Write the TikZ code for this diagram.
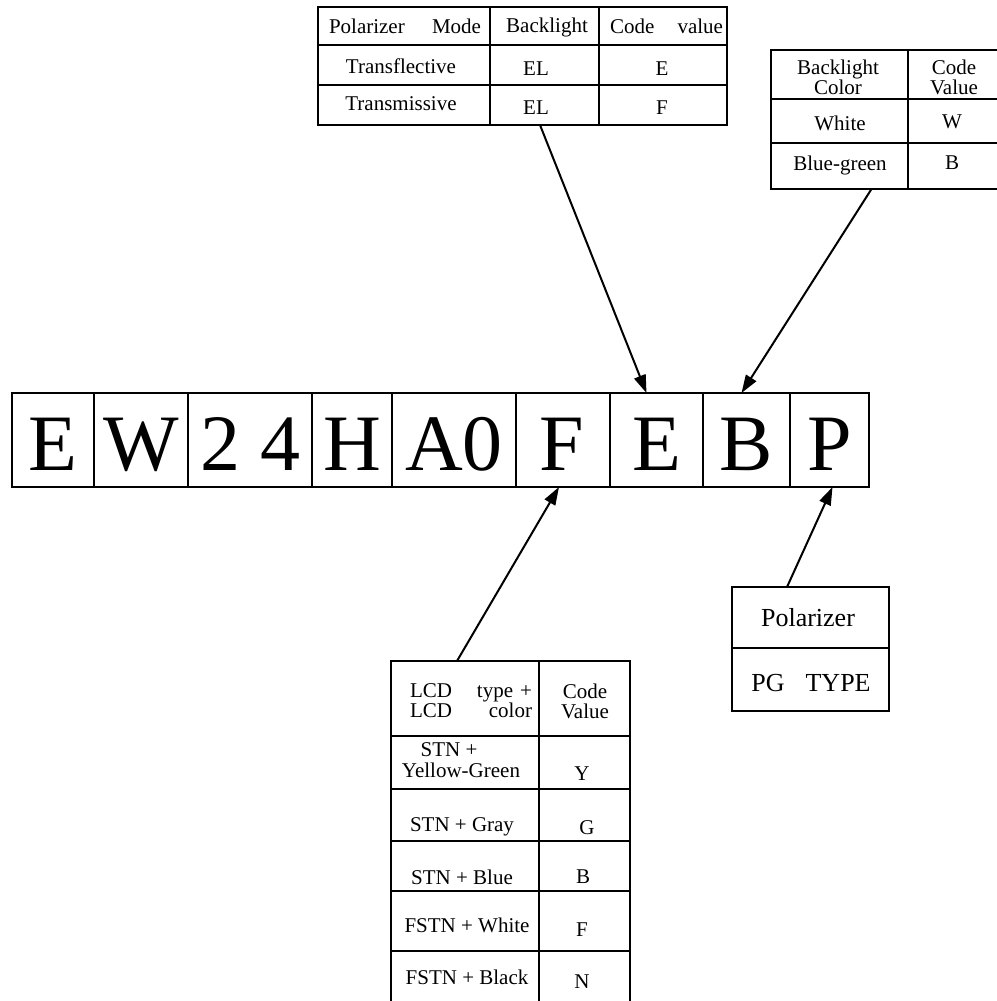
\documentclass[tikz,border=0pt]{standalone}
\usepackage{fontspec}
\setmainfont{Liberation Serif}
\usetikzlibrary{arrows.meta,calc}
\begin{document}
\begin{tikzpicture}[x=1pt,y=-1pt,
  cellbox/.style={draw, line width=1.7pt, minimum height=94pt, inner sep=0pt, outer sep=0pt},
  frame/.style={draw, line width=1.8pt, inner sep=0pt, outer sep=0pt, anchor=north west},
  rule/.style={line width=1.8pt},
  tabtxt/.style={font=\fontsize{21}{20}\selectfont, inner sep=0pt, align=center},
  big/.style={font=\fontsize{80}{80}\selectfont, inner sep=0pt, anchor=base},
  poltxt/.style={font=\fontsize{26}{26}\selectfont, inner sep=0pt},
  arr/.style={line width=2pt, -{Triangle[length=18pt,width=12pt]}},
]
\useasboundingbox (0,0) rectangle (996,1001);

% ---------- main code row ----------
\node[cellbox, minimum width=82pt] (c1) at (53,440) {};
\node[cellbox, minimum width=94pt] (c2) at (141,440) {};
\node[cellbox, minimum width=124pt] (c3) at (250,440) {};
\node[cellbox, minimum width=80pt] (c4) at (352,440) {};
\node[cellbox, minimum width=124pt] (c5) at (454,440) {};
\node[cellbox, minimum width=94pt] (c6) at (563,440) {};
\node[cellbox, minimum width=93pt] (c7) at (656.5,440) {};
\node[cellbox, minimum width=87pt] (c8) at (746.5,440) {};
\node[cellbox, minimum width=79pt] (c9) at (829.5,440) {};
\node[big] (l1) at (53,470) {E};
\node[big] (l2) at (141,470) {W};
\node[big] (l3) at (250,470) {2 4};
\node[big] (l4) at (352,470) {H};
\node[big] (l5) at (454,470) {A0};
\node[big] (l6) at (562,470) {F};
\node[big] (l7) at (656.5,470) {E};
\node[big] (l8) at (746,470) {B};
\node[big] (l9) at (830,470) {P};

% ---------- top table ----------
\node[frame, minimum width=409pt, minimum height=118pt] (tbl1) at (318,7) {};
\draw[rule] (318,45) -- (727,45);
\draw[rule] (318,85) -- (727,85);
\draw[rule] (490,7) -- (490,125);
\draw[rule] (599,7) -- (599,125);
\node[tabtxt, text width=152pt, align=left] (t1h1) at (405,26) {Polarizer\hfill Mode};
\node[tabtxt] (t1h2) at (547,27) {Backlight};
\node[tabtxt, text width=113pt, align=left] (t1h3) at (666.5,26) {Code\hfill value};
\node[tabtxt] (t1a1) at (401,66) {Transflective};
\node[tabtxt] (t1a2) at (536,69) {EL};
\node[tabtxt] (t1a3) at (662,69) {E};
\node[tabtxt] (t1b1) at (401,104) {Transmissive};
\node[tabtxt] (t1b2) at (536,108) {EL};
\node[tabtxt] (t1b3) at (662,108) {F};

% ---------- right table ----------
\node[frame, minimum width=228pt, minimum height=139pt] (tbl2) at (771,50) {};
\draw[rule] (771,99) -- (999,99);
\draw[rule] (771,143) -- (999,143);
\draw[rule] (908,50) -- (908,189);
\node[tabtxt] (t2h1) at (838,77) {Backlight\\Color};
\node[tabtxt] (t2h2) at (954,77) {Code\\Value};
\node[tabtxt] (t2a1) at (840,123) {White};
\node[tabtxt] (t2a2) at (952,122) {W};
\node[tabtxt] (t2b1) at (840,165) {Blue-green};
\node[tabtxt] (t2b2) at (952,163) {B};

% ---------- bottom table ----------
\node[frame, minimum width=239pt, minimum height=346pt] (tbl3) at (391,661) {};
\draw[rule] (539,661) -- (539,1007);
\draw[rule] (391,736) -- (630,736);
\draw[rule] (391,789) -- (630,789);
\draw[rule] (391,841) -- (630,841);
\draw[rule] (391,891) -- (630,891);
\draw[rule] (391,951) -- (630,951);
\node[tabtxt, text width=122pt, align=left] (t3h1) at (471,701) {LCD\hfill type +\\LCD\hfill color};
\node[tabtxt] (t3h2) at (585,701) {Code\\Value};
\node[tabtxt] (t3a1) at (449,750) {STN +};
\node[tabtxt] (t3a1b) at (461,770) {Yellow-Green};
\node[tabtxt] (t3a2) at (582,774) {Y};
\node[tabtxt] (t3b1) at (462,827) {STN + Gray};
\node[tabtxt] (t3b2) at (587,828) {G};
\node[tabtxt] (t3c1) at (462,877) {STN + Blue};
\node[tabtxt] (t3c2) at (583,877) {B};
\node[tabtxt] (t3d1) at (467,925) {FSTN + White};
\node[tabtxt] (t3d2) at (582,930) {F};
\node[tabtxt] (t3e1) at (467,977) {FSTN + Black};
\node[tabtxt] (t3e2) at (582,982) {N};

% ---------- polarizer box ----------
\node[frame, minimum width=157pt, minimum height=124pt] (pol) at (732,587) {};
\draw[rule] (732,648) -- (889,648);
\node[poltxt] (p1) at (808,618) {Polarizer};
\node[poltxt] (p2) at (811,683) {PG\hspace{21pt}TYPE};

% ---------- arrows ----------
\draw[arr] ($(tbl1.south)+(17.5,0)$) -- ($(c7.north)+(-10,0)$);
\draw[arr] ($(tbl2.south)+(-13.5,0)$) -- ($(c8.north)+(-5,0)$);
\draw[arr] ($(tbl3.north)+(-53.5,0)$) -- ($(c6.south)+(-4,0)$);
\draw[arr] ($(pol.north)+(-23.5,0)$) -- ($(c9.south)+(3,0)$);
\end{tikzpicture}
\end{document}
